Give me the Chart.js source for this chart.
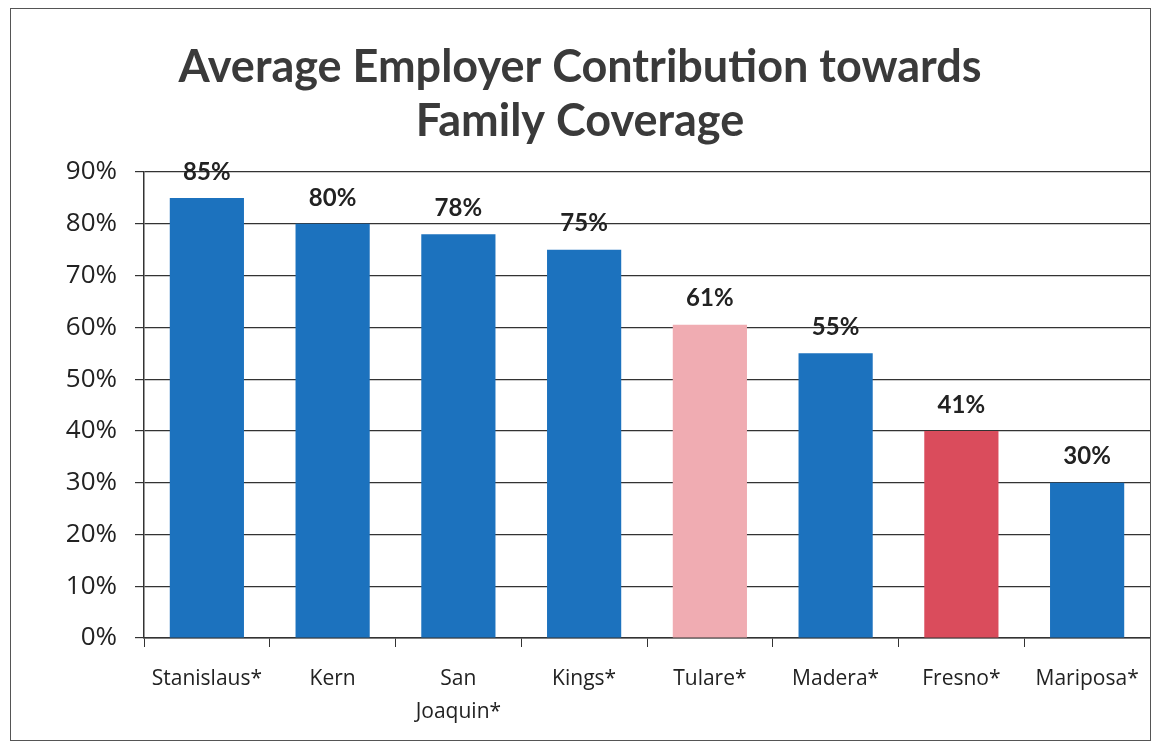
<!DOCTYPE html>
<html>
<head>
<meta charset="utf-8">
<script src="https://cdn.jsdelivr.net/npm/chart.js@4/dist/chart.umd.min.js"></script>
<style>
  body { margin: 0; background: #fff; }
  #wrap { position: relative; width: 1156px; height: 743px; }
  #frame { position: absolute; left: 10px; top: 8px; width: 1139px; height: 731px;
           border: 1.5px solid #555; pointer-events: none; }
</style>
</head>
<body>
<div id="wrap">
  <canvas id="coverageChart" width="1156" height="743"></canvas>
  <div id="frame"></div>
</div>
<script>
// counties, bar heights as drawn, and the printed labels
const counties = ['Stanislaus*', 'Kern', ['San', 'Joaquin*'], 'Kings*', 'Tulare*', 'Madera*', 'Fresno*', 'Mariposa*'];
const contribution = [85, 80, 78, 75, 60.5, 55, 40, 30];
const valueLabels = ['85%', '80%', '78%', '75%', '61%', '55%', '41%', '30%'];
const yTicks = [0, 10, 20, 30, 40, 50, 60, 70, 80, 90];

const blue = 'rgb(28, 114, 190)';
const barColors = [blue, blue, blue, blue, 'rgb(240, 172, 178)', blue, 'rgb(218, 76, 92)', blue];

const valueLabelPlugin = {
    id: 'valueLabels',
    afterDatasetsDraw(chart) {
        const ctx = chart.ctx;
        const meta = chart.getDatasetMeta(0);
        ctx.save();
        ctx.font = 'bold 24px Lato';
        ctx.fillStyle = '#222';
        ctx.textAlign = 'center';
        ctx.textBaseline = 'middle';
        meta.data.forEach((bar, i) => {
            ctx.fillText(valueLabels[i], bar.x, bar.y - 26);
        });
        ctx.restore();
    }
};

const ctx = document.getElementById('coverageChart');
new Chart(ctx, {
    type: 'bar',
    data: {
        labels: counties,
        datasets: [
            {
                data: contribution,
                backgroundColor: barColors,
                borderWidth: 0,
                categoryPercentage: 1,
                barPercentage: 0.59
            }
        ]
    },
    options: {
        responsive: false,
        animation: false,
        layout: {
            padding: { left: 10, right: 6, top: 12, bottom: 10 }
        },
        plugins: {
            legend: { display: false },
            tooltip: { enabled: false },
            title: {
                display: true,
                text: ['Average Employer Contribution towards', 'Family Coverage'],
                color: '#3a3a3a',
                font: { family: 'Lato', size: 45, weight: 'bold', lineHeight: 1.2 },
                padding: { top: 28, bottom: 24 }
            }
        },
        scales: {
            x: {
                grid: { drawOnChartArea: false, drawTicks: true, tickLength: 9, color: '#333', offset: true },
                border: { color: '#333', width: 1.5 },
                ticks: { color: '#222', font: { family: 'Open Sans', size: 21, lineHeight: 1.55 }, padding: 16, maxRotation: 0 },
                afterFit: (scale) => { scale.height = 95; }
            },
            y: {
                min: 0,
                max: 90,
                afterBuildTicks: (scale) => { scale.ticks = yTicks.map(v => ({ value: v })); },
                grid: { color: '#333', lineWidth: 1.2, tickLength: 9 },
                border: { color: '#333', width: 1.5 },
                ticks: {
                    color: '#222',
                    font: { family: 'Open Sans', size: 26 },
                    padding: 18,
                    callback: (v) => v + '%'
                },
                afterFit: (scale) => { scale.width = 134; }
            }
        }
    },
    plugins: [valueLabelPlugin]
});
</script>
</body>
</html>
